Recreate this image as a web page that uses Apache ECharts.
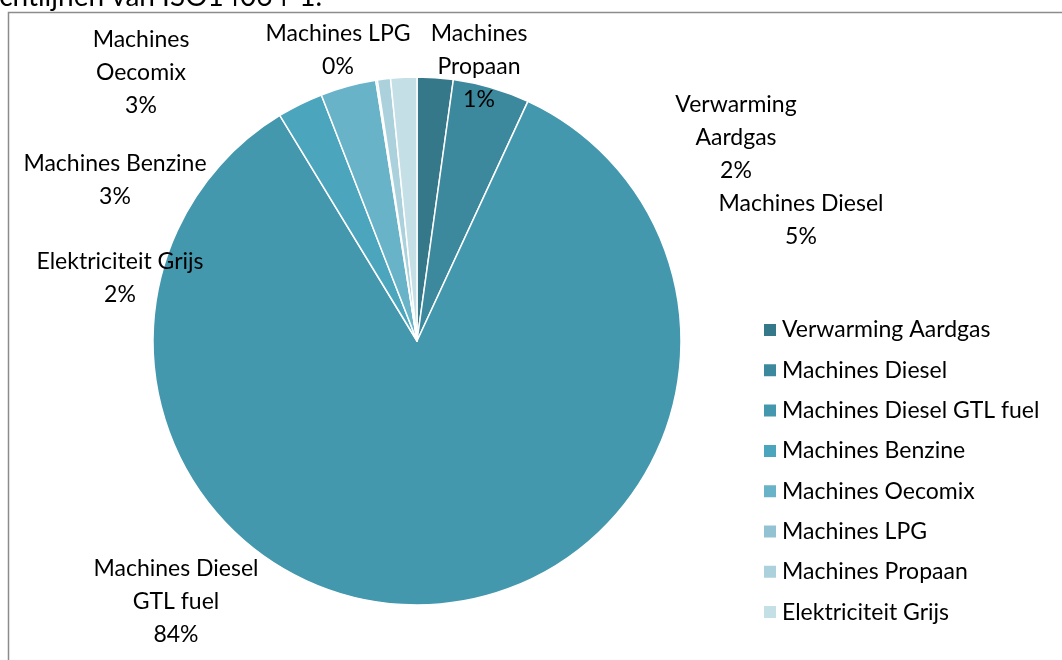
<!DOCTYPE html>
<html>
<head>
<meta charset="utf-8">
<script src="https://cdn.jsdelivr.net/npm/echarts@6/dist/echarts.min.js"></script>
<style>
  html, body { margin: 0; padding: 0; background: #fff; }
  #main { width: 1062px; height: 660px; }
</style>
</head>
<body>
<div id="main"></div>
<script>
// data (share of total, %)
const categories = [
  "Verwarming Aardgas",
  "Machines Diesel",
  "Machines Diesel GTL fuel",
  "Machines Benzine",
  "Machines Oecomix",
  "Machines LPG",
  "Machines Propaan",
  "Elektriciteit Grijs"
];
const values = [2.2, 4.7, 84.4, 2.8, 3.4, 0.1, 0.8, 1.6];
// label text as it is broken over lines in the reference
const labelNames = [
  "Verwarming\nAardgas",
  "Machines Diesel",
  "Machines Diesel\nGTL fuel",
  "Machines Benzine",
  "Machines\nOecomix",
  "Machines LPG",
  "Machines\nPropaan",
  "Elektriciteit Grijs"
];
const colors = ["#34788a", "#3c889c", "#4398ae", "#4aa5bd", "#68b3c8", "#93c3d3", "#abd1dd", "#c5dfe6"];
// where each label's centre sits
const labelSpots = [
  [736, 138], [801, 220], [176, 602], [115, 180],
  [141, 73], [338, 50], [479, 67], [120, 278]
];

const font = "Lato";
const chart = echarts.init(document.getElementById("main"));

const option = {
  animation: false,
  color: colors,
  graphic: [
    {
      type: "text",
      x: 322, y: -3,
      style: {
        text: "richtlijnen van ISO14064-1.",
        font: "28px " + font,
        fill: "#000",
        textAlign: "right",
        textVerticalAlign: "middle"
      },
      silent: true
    },
    {
      type: "rect",
      shape: { x: 8.5, y: 12.5, width: 1200, height: 800 },
      style: { fill: "none", stroke: "#8c8c8c", lineWidth: 1.5 },
      silent: true
    }
  ],
  legend: {
    orient: "vertical",
    left: 762,
    top: 318,
    padding: 0,
    itemWidth: 14,
    itemHeight: 14,
    itemGap: 16.3,
    icon: "rect",
    textStyle: { fontFamily: font, fontSize: 23, color: "#000", lineHeight: 24 },
    data: categories
  },
  series: [
    {
      type: "pie",
      center: [417, 341],
      radius: 264,
      startAngle: 90,
      clockwise: true,
      itemStyle: { borderColor: "#fff", borderWidth: 1.5 },
      label: {
        show: true,
        position: "outside",
        fontFamily: font,
        fontSize: 23,
        lineHeight: 33,
        color: "#000",
        align: "center",
        overflow: "none",
        width: 300,
        formatter: (p) => labelNames[p.dataIndex] + "\n" + Math.round(p.percent) + "%"
      },
      labelLine: { show: false },
      labelLayout: (p) => ({
        x: labelSpots[p.dataIndex][0],
        y: labelSpots[p.dataIndex][1],
        align: "center",
        verticalAlign: "middle"
      }),
      emphasis: { disabled: true },
      data: categories.map((c, i) => ({ name: c, value: values[i] }))
    }
  ]
};
chart.setOption(option);
</script>
</body>
</html>
